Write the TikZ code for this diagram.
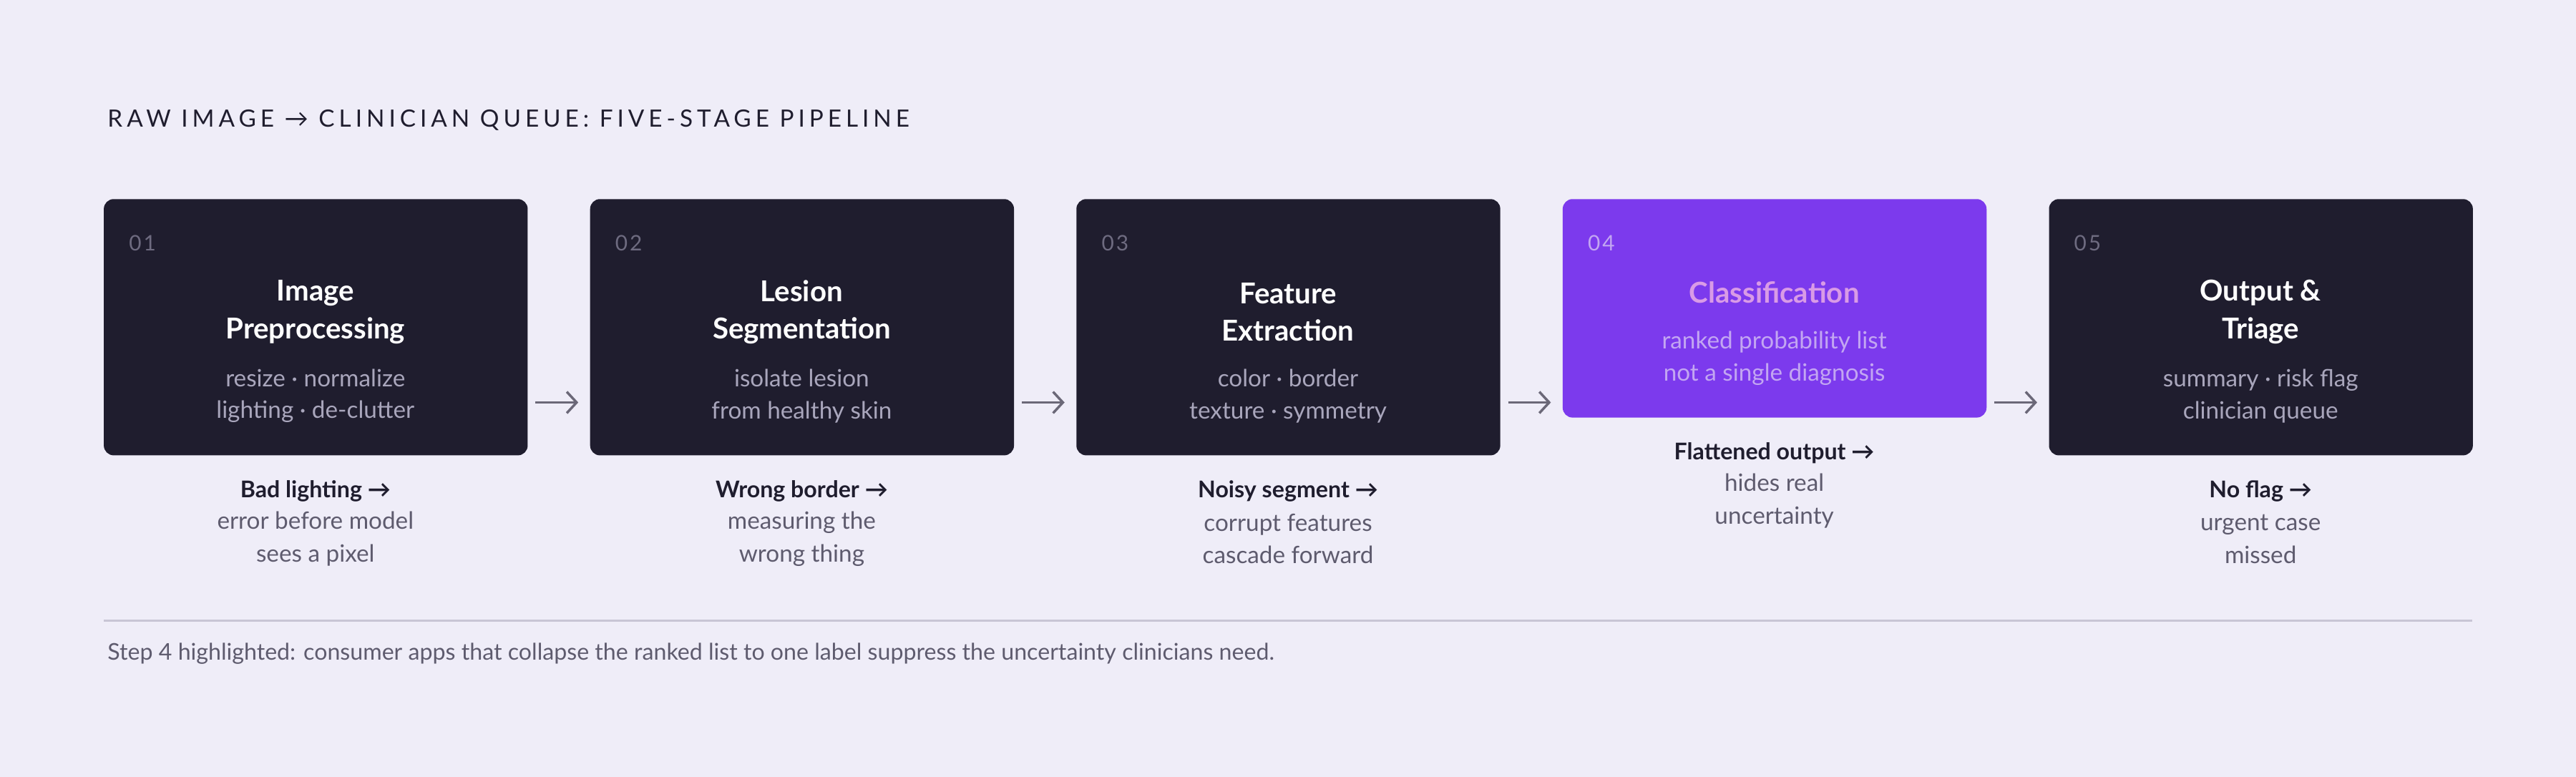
\documentclass[tikz,border=0pt]{standalone}
\usepackage{fontspec}
\setmainfont{Lato}
\usetikzlibrary{arrows.meta}
\definecolor{bg}{HTML}{EFEDF8}
\definecolor{dark}{HTML}{1F1D2E}
\definecolor{purp}{HTML}{7C3AED}
\definecolor{ptitle}{HTML}{D99BE6}
\definecolor{psub}{HTML}{C3A6F2}
\definecolor{dsub}{HTML}{A9A6BC}
\definecolor{num}{HTML}{6E6B80}
\definecolor{cap}{HTML}{5E5B6E}
\definecolor{rule}{HTML}{C8C5D5}
\definecolor{arr}{HTML}{6B6878}
\begin{document}
\begin{tikzpicture}[x=1pt,y=-1pt,
 box/.style={draw=none,rounded corners=6pt,anchor=north west,minimum width=258pt,inner sep=0pt},
 numl/.style={anchor=west,font=\fontsize{13}{13}\selectfont\addfontfeature{LetterSpace=10},text=num},
 ttl/.style={align=center,font=\fontsize{17.5}{23}\selectfont\bfseries,text=white},
 sub/.style={align=center,font=\fontsize{14.5}{19.5}\selectfont,text=dsub},
 capb/.style={font=\fontsize{14}{14}\selectfont\bfseries,text=dark},
 capt/.style={align=center,font=\fontsize{14.5}{20}\selectfont,text=cap},
 con/.style={draw=arr,line width=1.5pt,-{Straight Barb[length=6pt,width=13pt]}}]
\fill[bg] (0,0) rectangle (1568,473);
\node[anchor=west,font=\fontsize{14.5}{14}\selectfont\addfontfeature{LetterSpace=18},text=dark] (title) at (62,73) {RAW IMAGE → CLINICIAN QUEUE: FIVE-STAGE PIPELINE};
\foreach \i/\x/\t/\s/\a/\b/\c in {
 1/63/{Image\\Preprocessing}/{resize · normalize\\lighting · de-clutter}/{Bad lighting →}/{error before model}/{sees a pixel},
 2/359/{Lesion\\Segmentation}/{isolate lesion\\from healthy skin}/{Wrong border →}/{measuring the}/{wrong thing},
 3/655/{Feature\\Extraction}/{color · border\\texture · symmetry}/{Noisy segment →}/{corrupt features}/{cascade forward},
 5/1247/{Output \&\\Triage}/{summary · risk flag\\clinician queue}/{No flag →}/{urgent case}/{missed}}{
 \node[box,fill=dark,minimum height=156pt] (b\i) at (\x,121) {};
 \node[numl] (n\i) at (\x+12,148) {0\i};
 \node[ttl] (t\i) at (\x+129,190) {\t};
 \node[sub] (s\i) at (\x+129,241) {\s};
 \node[capb] (c\i) at (\x+129,299) {\a};
 \node[capt] (d\i) at (\x+129,328) {\b\\\c};
}
\node[box,fill=purp,minimum height=133pt] (b4) at (951,121) {};
\node[numl,text=psub] (n4) at (963,148) {04};
\node[ttl,text=ptitle] (t4) at (1080,178) {Classification};
\node[sub,text=psub] (s4) at (1080,218) {ranked probability list\\not a single diagnosis};
\node[capb] (c4) at (1080,276) {Flattened output →};
\node[capt] (d4) at (1080,305) {hides real\\uncertainty};
\coordinate (a1) at (326,245); \coordinate (e1) at (352,245);
\coordinate (a2) at (622,245); \coordinate (e2) at (648,245);
\coordinate (a3) at (918,245); \coordinate (e3) at (944,245);
\coordinate (a4) at (1214,245); \coordinate (e4) at (1240,245);
\foreach \k in {1,2,3,4} \draw[con] (a\k) -- (e\k);
\coordinate (r1) at (63,378); \coordinate (r2) at (1505,378);
\draw[rule,line width=1.2pt] (r1) -- (r2);
\node[anchor=west,font=\fontsize{14}{14}\selectfont,text=cap] (foot) at (62,398) {Step 4 highlighted: consumer apps that collapse the ranked list to one label suppress the uncertainty clinicians need.};
\end{tikzpicture}
\end{document}
